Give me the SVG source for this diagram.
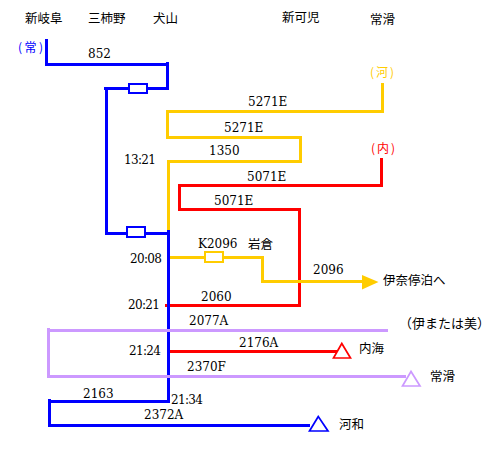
<svg xmlns="http://www.w3.org/2000/svg" width="497" height="452" viewBox="0 0 497 452">
<style>
.l{fill:none;stroke-width:3;shape-rendering:crispEdges;stroke-linecap:butt;stroke-linejoin:miter}
.B{stroke:#0000ff}.Y{stroke:#ffcc00}.R{stroke:#ff0000}.P{stroke:#cc99ff}
.box{fill:#fff;stroke-width:2;shape-rendering:crispEdges}
.tri{fill:#fff;stroke-width:1.700}
text{font-family:"Noto Sans CJK JP","DejaVu Sans",sans-serif;font-size:12.500px;fill:#000}
.n{font-family:"DejaVu Serif",serif;font-size:12px}
.s{font-size:12px}
</style>
<rect width="497" height="452" fill="#fff"/>
<g id="connectors">
<path class="l Y" d="M382.500 83V111.500H167.500V137.500H300.500V161.500H168.500V232"/>
<path class="l R" d="M381.500 158V185.500H179.500V209.500H299.500V305.500H165"/>
<path class="l Y" d="M170 257.500H262.500V281.500H364"/>
<path class="l B" d="M46.500 39V64.500H169M167.500 62V88.500H104M106.500 87V233H168"/>
<path class="l B" d="M168.500 230V401.500H48M49.500 399V425.500H310"/>
<path class="l R" d="M170 351.500H337"/>
<path class="l P" d="M47 330.500H388M48.500 328V378M47 376.500H406"/>
<polygon points="362,275 378.500,282 362,289.500" fill="#ffcc00"/>
</g>
<g id="box-mikakino"><rect class="box B" x="129" y="84" width="18" height="9"/></g>
<g id="box-inuyama"><rect class="box B" x="127" y="227" width="18" height="10"/></g>
<g id="box-k2096"><rect class="box Y" x="205" y="252" width="18" height="10"/></g>
<g id="tri-utsumi"><polygon class="tri R" points="341.800,343.500 333.500,358 350.500,358"/></g>
<g id="tri-tokoname"><polygon class="tri P" points="411,371.500 402.500,386 420,386"/></g>
<g id="tri-kowa"><polygon class="tri B" points="318.300,416.500 309.500,431 328,431"/></g>
<g id="labels">
<text x="25" y="23">新岐阜</text>
<text x="88" y="23">三柿野</text>
<text x="153" y="23">犬山</text>
<text x="282" y="22">新可児</text>
<text x="370" y="24">常滑</text>
<text class="s" x="18" y="52" textLength="25" style="fill:#0000ff">(常)</text>
<text class="s" x="370" y="77" textLength="24" style="fill:#ffcc00">(河)</text>
<text class="s" x="371" y="153" textLength="24" style="fill:#ff0000">(内)</text>
<text class="n" x="88" y="58">852</text>
<text class="n" x="248" y="106">5271E</text>
<text class="n" x="224" y="132">5271E</text>
<text class="n" x="209" y="155">1350</text>
<text class="n" x="124" y="164" textLength="32">13:21</text>
<text class="n" x="247" y="181">5071E</text>
<text class="n" x="214" y="205">5071E</text>
<text class="n" x="198" y="248">K2096</text>
<text x="248" y="249">岩倉</text>
<text class="n" x="313" y="274">2096</text>
<text class="n" x="130" y="263" textLength="32">20:08</text>
<text x="383" y="285">伊奈停泊へ</text>
<text class="n" x="128" y="309" textLength="32">20:21</text>
<text class="n" x="201" y="301">2060</text>
<text class="n" x="189" y="325">2077A</text>
<text x="399" y="328" style="font-size:13px">（伊または美）</text>
<text class="n" x="129" y="355" textLength="32">21:24</text>
<text class="n" x="239" y="347">2176A</text>
<text x="359" y="353">内海</text>
<text class="n" x="187" y="371">2370F</text>
<text x="430" y="381">常滑</text>
<text class="n" x="83" y="398">2163</text>
<text class="n" x="171" y="404" textLength="32">21:34</text>
<text class="n" x="144" y="419">2372A</text>
<text x="339" y="429">河和</text>
</g>
</svg>
